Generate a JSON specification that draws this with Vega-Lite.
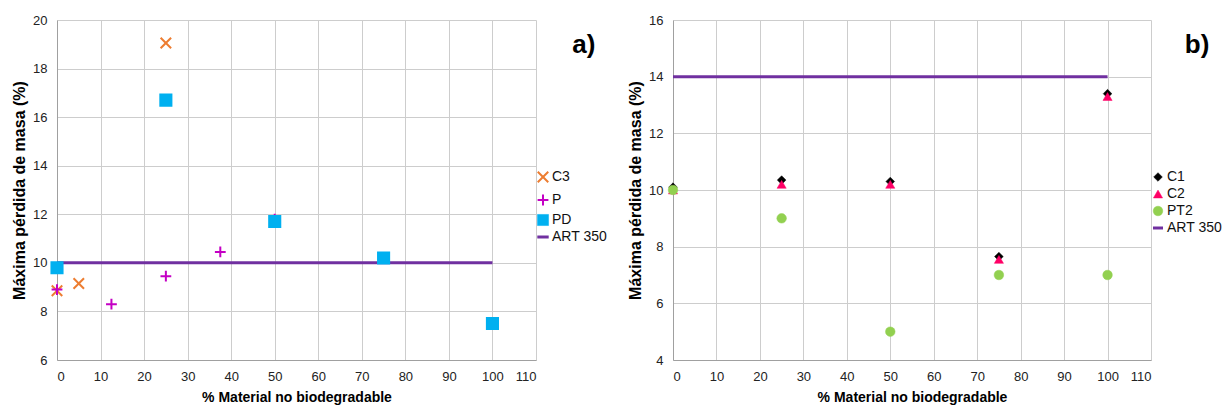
{
  "$schema": "https://vega.github.io/schema/vega-lite/v6.json",
  "background": "white",
  "padding": {"left": 11, "top": 14, "right": 0, "bottom": 5},
  "autosize": {"type": "pad"},
  "spacing": 137,
  "bounds": "flush",
  "config": {
    "font": "Liberation Sans",
    "view": {"stroke": null},
    "axis": {
      "labelFont": "Liberation Sans", "labelFontSize": 13, "labelColor": "#222",
      "titleFont": "Liberation Sans", "titleFontWeight": "bold", "titleColor": "#000",
      "gridColor": "#CDCDCD", "domainColor": "#A0A0A0", "ticks": false, "labelPadding": 10
    },
    "axisY": {"titlePadding": 5, "titleFontSize": 16},
    "axisX": {"titlePadding": 7, "titleFontSize": 14},
    "legend": {
      "orient": "none", "title": null, "labelFont": "Liberation Sans", "labelFontSize": 14,
      "labelColor": "#111", "rowPadding": 3, "labelOffset": 2, "legendY": 150
    }
  },
  "hconcat": [
    {
      "width": 479, "height": 340,
      "data": {"values": [
        {"x": 0, "y": 8.85, "s": "C3"},
        {"x": 5, "y": 9.15, "s": "C3"},
        {"x": 25, "y": 19.05, "s": "C3"},
        {"x": 0, "y": 8.9, "s": "P"},
        {"x": 12.5, "y": 8.3, "s": "P"},
        {"x": 25, "y": 9.45, "s": "P"},
        {"x": 37.5, "y": 10.45, "s": "P"},
        {"x": 50, "y": 11.8, "s": "P"},
        {"x": 0, "y": 9.8, "s": "PD"},
        {"x": 25, "y": 16.7, "s": "PD"},
        {"x": 50, "y": 11.7, "s": "PD"},
        {"x": 75, "y": 10.2, "s": "PD"},
        {"x": 100, "y": 7.5, "s": "PD"},
        {"x": 0, "y": 10, "s": "ART 350"},
        {"x": 100, "y": 10, "s": "ART 350"}
      ]},
      "encoding": {
        "x": {"field": "x", "type": "quantitative", "title": "% Material no biodegradable",
              "scale": {"domain": [0, 110], "nice": false}, "axis": {"values": [0,10,20,30,40,50,60,70,80,90,100,110]}},
        "y": {"field": "y", "type": "quantitative", "title": "Máxima  pérdida de masa (%)",
              "scale": {"domain": [6, 20], "nice": false}, "axis": {"values": [6,8,10,12,14,16,18,20]}}
      },
      "layer": [
        {
          "transform": [{"filter": "datum.s === 'ART 350'"}],
          "mark": {"type": "line", "strokeWidth": 3},
          "encoding": {
            "stroke": {"field": "s", "type": "nominal", "scale": {"domain": ["C3","P","PD","ART 350"], "range": ["#ED7D31","#C400C4","#00B0F0","#7030A0"]},
                       "legend": {"legendX": 479, "encode": {"symbols": {"update": {"strokeWidth": {"signal": "datum.value === 'ART 350' ? 3 : datum.value === 'PD' ? 0.5 : 2"}}}}}}
          }
        },
        {
          "transform": [{"filter": "datum.s !== 'ART 350'"}],
          "mark": {"type": "point", "filled": true, "opacity": 1, "strokeWidth": 2},
          "encoding": {
            "shape": {"field": "s", "type": "nominal", "scale": {"domain": ["C3","P","PD","ART 350"], "range": ["M-1,-1L1,1M-1,1L1,-1","M-1,0L1,0M0,-1L0,1","square","stroke"]}, "legend": {"legendX": 479}},
            "fill": {"field": "s", "type": "nominal", "scale": {"domain": ["C3","P","PD","ART 350"], "range": ["transparent","transparent","#00B0F0","#7030A0"]}, "legend": {"legendX": 479}},
            "stroke": {"field": "s", "type": "nominal", "scale": {"domain": ["C3","P","PD","ART 350"], "range": ["#ED7D31","#C400C4","#00B0F0","#7030A0"]},
                       "legend": {"legendX": 479, "encode": {"symbols": {"update": {"strokeWidth": {"signal": "datum.value === 'ART 350' ? 3 : datum.value === 'PD' ? 0.5 : 2"}}}}}},
            "size": {"field": "s", "type": "nominal", "scale": {"domain": ["C3","P","PD","ART 350"], "range": [110, 130, 95, 400]}, "legend": {"legendX": 479}}
          }
        },
        {
          "transform": [{"filter": "datum.s === 'PD'"}],
          "mark": {"type": "point", "filled": true, "opacity": 1, "shape": "square", "size": 95, "color": "#00B0F0", "strokeWidth": 0},
          "encoding": {}
        },
        {
          "transform": [{"filter": "datum.s === 'ART 350' && datum.x === 0"}],
          "mark": {"type": "text", "fontSize": 26, "fontWeight": "bold", "font": "Liberation Sans", "align": "center", "baseline": "middle", "color": "#000"},
          "encoding": {
            "x": {"datum": 121, "type": "quantitative"},
            "y": {"datum": 18.97, "type": "quantitative"},
            "text": {"value": "a)"}
          }
        }
      ]
    },
    {
      "width": 478, "height": 340,
      "data": {"values": [
        {"x": 0, "y": 10.1, "s": "C1"},
        {"x": 25, "y": 10.35, "s": "C1"},
        {"x": 50, "y": 10.3, "s": "C1"},
        {"x": 75, "y": 7.65, "s": "C1"},
        {"x": 100, "y": 13.4, "s": "C1"},
        {"x": 0, "y": 10.0, "s": "C2"},
        {"x": 25, "y": 10.2, "s": "C2"},
        {"x": 50, "y": 10.2, "s": "C2"},
        {"x": 75, "y": 7.55, "s": "C2"},
        {"x": 100, "y": 13.3, "s": "C2"},
        {"x": 0, "y": 10.0, "s": "PT2"},
        {"x": 25, "y": 9.0, "s": "PT2"},
        {"x": 50, "y": 5.0, "s": "PT2"},
        {"x": 75, "y": 7.0, "s": "PT2"},
        {"x": 100, "y": 7.0, "s": "PT2"},
        {"x": 0, "y": 14, "s": "ART 350"},
        {"x": 100, "y": 14, "s": "ART 350"}
      ]},
      "encoding": {
        "x": {"field": "x", "type": "quantitative", "title": "% Material no biodegradable",
              "scale": {"domain": [0, 110], "nice": false}, "axis": {"values": [0,10,20,30,40,50,60,70,80,90,100,110]}},
        "y": {"field": "y", "type": "quantitative", "title": "Máxima  pérdida de masa (%)",
              "scale": {"domain": [4, 16], "nice": false}, "axis": {"values": [4,6,8,10,12,14,16]}}
      },
      "layer": [
        {
          "transform": [{"filter": "datum.s === 'ART 350'"}],
          "mark": {"type": "line", "strokeWidth": 3},
          "encoding": {
            "stroke": {"field": "s", "type": "nominal", "scale": {"domain": ["C1","C2","PT2","ART 350"], "range": ["#000000","#FF0066","#92D050","#7030A0"]},
                       "legend": {"legendX": 478, "encode": {"symbols": {"update": {"strokeWidth": {"signal": "datum.value === 'ART 350' ? 3 : 0.5"}}}}}}
          }
        },
        {
          "transform": [{"filter": "datum.s !== 'ART 350'"}],
          "mark": {"type": "point", "filled": true, "opacity": 1, "strokeWidth": 0.5},
          "encoding": {
            "shape": {"field": "s", "type": "nominal", "scale": {"domain": ["C1","C2","PT2","ART 350"], "range": ["diamond","triangle-up","circle","stroke"]}, "legend": {"legendX": 478}},
            "fill": {"field": "s", "type": "nominal", "scale": {"domain": ["C1","C2","PT2","ART 350"], "range": ["#000000","#FF0066","#92D050","#7030A0"]}, "legend": {"legendX": 478}},
            "stroke": {"field": "s", "type": "nominal", "scale": {"domain": ["C1","C2","PT2","ART 350"], "range": ["#000000","#FF0066","#92D050","#7030A0"]},
                       "legend": {"legendX": 478, "encode": {"symbols": {"update": {"strokeWidth": {"signal": "datum.value === 'ART 350' ? 3 : 0.5"}}}}}},
            "size": {"field": "s", "type": "nominal", "scale": {"domain": ["C1","C2","PT2","ART 350"], "range": [75, 100, 110, 400]}, "legend": {"legendX": 478}}
          }
        },
        {
          "transform": [{"filter": "datum.s === 'ART 350' && datum.x === 0"}],
          "mark": {"type": "text", "fontSize": 26, "fontWeight": "bold", "font": "Liberation Sans", "align": "center", "baseline": "middle", "color": "#000"},
          "encoding": {
            "x": {"datum": 120.6, "type": "quantitative"},
            "y": {"datum": 15.12, "type": "quantitative"},
            "text": {"value": "b)"}
          }
        }
      ]
    }
  ],
  "resolve": {"scale": {"stroke": "independent", "fill": "independent", "shape": "independent", "size": "independent", "y": "independent", "x": "independent"}, "legend": {"stroke": "independent", "fill": "independent", "shape": "independent", "size": "independent"}}
}
